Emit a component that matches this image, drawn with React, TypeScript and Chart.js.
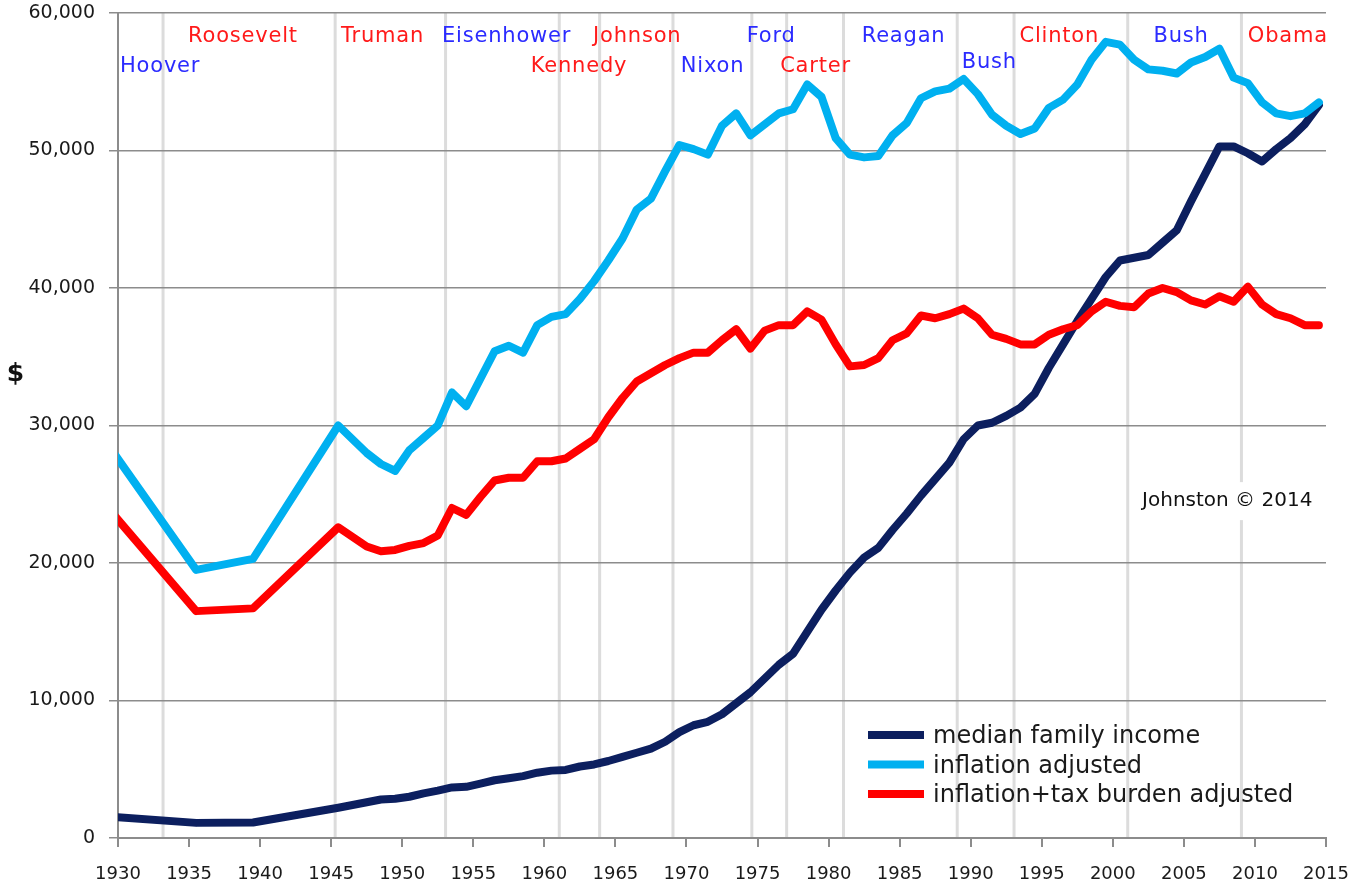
import { useEffect, useRef } from "react";
import { Chart, registerables } from "chart.js";

Chart.register(...registerables);

// ---- data ----
const years = [
  1929, 1935, 1939, 1945, 1947, 1948, 1949, 1950, 1951, 1952, 1953, 1954, 1955, 1956, 1957, 1958,
  1959, 1960, 1961, 1962, 1963, 1964, 1965, 1966, 1967, 1968, 1969, 1970, 1971, 1972, 1973, 1974,
  1975, 1976, 1977, 1978, 1979, 1980, 1981, 1982, 1983, 1984, 1985, 1986, 1987, 1988, 1989, 1990,
  1991, 1992, 1993, 1994, 1995, 1996, 1997, 1998, 1999, 2000, 2001, 2002, 2003, 2004, 2005, 2006,
  2007, 2008, 2009, 2010, 2011, 2012, 2013, 2014,
];

const medianFamilyIncome = [
  1550, 1100, 1130, 2200, 2600, 2800, 2850, 3000, 3250, 3450, 3680, 3720, 3950, 4200, 4350, 4500,
  4750, 4900, 4950, 5200, 5350, 5600, 5900, 6200, 6500, 7000, 7700, 8200, 8450, 9000, 9800, 10600,
  11600, 12600, 13400, 15000, 16600, 18000, 19300, 20400, 21100, 22400, 23600, 24900, 26100, 27300, 29000, 30000,
  30200, 30700, 31300, 32300, 34200, 35900, 37600, 39200, 40800, 42000, 42200, 42400, 43300, 44200, 46300, 48300,
  50300, 50300, 49800, 49200, 50100, 50900, 51900, 53300,
];

const inflationAdjusted = [
  28300, 19500, 20300, 30000, 28000, 27200, 26700, 28200, 29100, 30000, 32400, 31400, 33400, 35400, 35800, 35300,
  37300, 37900, 38100, 39200, 40500, 42000, 43600, 45700, 46500, 48500, 50400, 50100, 49700, 51800, 52700, 51100,
  51900, 52700, 53000, 54800, 53900, 50900, 49700, 49500, 49600, 51100, 52000, 53800, 54300, 54500, 55200, 54100,
  52600, 51800, 51200, 51600, 53100, 53700, 54800, 56600, 57900, 57700, 56600, 55900, 55800, 55600, 56400, 56800,
  57400, 55300, 54900, 53500, 52700, 52500, 52700, 53500,
];

const inflationTaxAdjusted = [
  23750, 16500, 16700, 22600, 21200, 20850, 20950, 21250, 21450, 22000, 24000, 23500, 24800, 26000, 26200, 26200,
  27400, 27400, 27600, 28300, 29000, 30600, 32000, 33200, 33800, 34400, 34900, 35300, 35300, 36200, 37000, 35600,
  36900, 37300, 37300, 38300, 37700, 35900, 34300, 34400, 34900, 36200, 36700, 38000, 37800, 38100, 38500, 37800,
  36600, 36300, 35900, 35900, 36600, 37000, 37300, 38300, 39000, 38700, 38600, 39600, 40000, 39700, 39100, 38800,
  39400, 39000, 40100, 38800, 38100, 37800, 37300, 37300,
];

const seriesLabels = ["median family income", "inflation adjusted", "inflation+tax burden adjusted"];

const xTicks = [1930, 1935, 1940, 1945, 1950, 1955, 1960, 1965, 1970, 1975, 1980, 1985, 1990, 1995, 2000, 2005, 2010, 2015];
const yTicks = [0, 10000, 20000, 30000, 40000, 50000, 60000];

// presidential transitions (dates of inauguration)
const transitions = [1933.17, 1945.28, 1953.05, 1961.05, 1963.89, 1969.05, 1974.6, 1977.05, 1981.05, 1989.05, 1993.05, 2001.05, 2009.05];

const presidents = ["Hoover", "Roosevelt", "Truman", "Eisenhower", "Kennedy", "Johnson", "Nixon", "Ford", "Carter", "Reagan", "Bush", "Clinton", "Bush", "Obama"];
const parties = ["R", "D", "D", "R", "D", "D", "R", "R", "D", "R", "R", "D", "R", "D"];
const labelYears = [1930.14, 1934.93, 1945.69, 1952.8, 1959.04, 1963.43, 1969.6, 1974.24, 1976.59, 1982.33, 1989.37, 1993.43, 2002.86, 2009.5];
const labelBaselines = [55700, 57900, 57900, 57900, 55700, 57900, 55700, 57900, 55700, 57900, 56000, 57900, 57900, 57900];

const creditText = "Johnston \u00A9 2014";
const creditAt = { year: 2002.06, value: 24500 };

// ---- styles ----
const NAVY = "#0c1f5f";
const SKY = "#00b0f0";
const RED = "#ff0000";
const GRID = "#8c8c8c";
const PRES_BLUE = "#2b2bff";
const PRES_RED = "#ff1a1a";
const FONT = '"DejaVu Sans", Verdana, sans-serif';

const X_OFFSET = 0.5; // annual values are plotted at mid-year

function toPoints(vals: number[]) {
  return years.map((yr, i) => ({ x: yr + X_OFFSET, y: vals[i] }));
}

function zeroPadding(axis: any) {
  axis.paddingTop = 0;
  axis.paddingBottom = 0;
  axis.paddingLeft = 0;
  axis.paddingRight = 0;
}

const overlayPlugin = {
  id: "overlay",
  beforeDraw(chart: any) {
    const { ctx, chartArea, scales } = chart;
    const xs = scales.x;
    const ys = scales.y;
    ctx.save();
    // presidential term boundaries
    ctx.strokeStyle = "#dcdcdc";
    ctx.lineWidth = 3;
    transitions.forEach((t) => {
      const px = xs.getPixelForValue(t);
      ctx.beginPath();
      ctx.moveTo(px, chartArea.top);
      ctx.lineTo(px, chartArea.bottom);
      ctx.stroke();
    });
    // credit with white background
    ctx.font = `20px ${FONT}`;
    const cx = xs.getPixelForValue(creditAt.year);
    const cy = ys.getPixelForValue(creditAt.value);
    const w = ctx.measureText(creditText).width;
    ctx.fillStyle = "#ffffff";
    ctx.fillRect(cx - 6, cy - 19, w + 12, 38);
    ctx.fillStyle = "#111111";
    ctx.textBaseline = "middle";
    ctx.textAlign = "left";
    ctx.fillText(creditText, cx, cy);
    ctx.restore();
  },
  afterDraw(chart: any) {
    const { ctx, chartArea, scales } = chart;
    const xs = scales.x;
    const ys = scales.y;
    ctx.save();
    // president names
    ctx.font = `21px ${FONT}`;
    (ctx as any).letterSpacing = "0.8px";
    ctx.textAlign = "left";
    ctx.textBaseline = "alphabetic";
    presidents.forEach((name, i) => {
      ctx.fillStyle = parties[i] === "R" ? PRES_BLUE : PRES_RED;
      ctx.fillText(name, xs.getPixelForValue(labelYears[i]), ys.getPixelForValue(labelBaselines[i]));
    });
    (ctx as any).letterSpacing = "0px";

    // y-axis "$"
    ctx.font = `bold 25px ${FONT}`;
    ctx.fillStyle = "#111111";
    ctx.textAlign = "center";
    ctx.textBaseline = "middle";
    ctx.fillText("$", ys.left + 15.5, ys.getPixelForValue(33700));

    // legend
    const lx = chartArea.left + 750;
    const ly = chartArea.top + 722;
    ctx.font = `24px ${FONT}`;
    ctx.textAlign = "left";
    ctx.textBaseline = "alphabetic";
    chart.data.datasets.forEach((ds: any, i: number) => {
      const rowY = ly + i * 29.5;
      ctx.strokeStyle = ds.borderColor;
      ctx.lineWidth = 8;
      ctx.lineCap = "butt";
      ctx.beginPath();
      ctx.moveTo(lx, rowY);
      ctx.lineTo(lx + 56, rowY);
      ctx.stroke();
      ctx.fillStyle = "#1a1a1a";
      ctx.fillText(ds.label, lx + 65, rowY + 8);
    });
    ctx.restore();
  },
};

export default function App() {
  const canvasRef = useRef<HTMLCanvasElement | null>(null);

  useEffect(() => {
    if (!canvasRef.current) return;
    Chart.defaults.font.family = FONT;
    const chart = new Chart(canvasRef.current, {
      type: "line",
      data: {
        datasets: [
          {
            label: seriesLabels[0],
            data: toPoints(medianFamilyIncome),
            borderColor: NAVY,
            backgroundColor: NAVY,
            order: 2,
          },
          {
            label: seriesLabels[1],
            data: toPoints(inflationAdjusted),
            borderColor: SKY,
            backgroundColor: SKY,
            order: 1,
          },
          {
            label: seriesLabels[2],
            data: toPoints(inflationTaxAdjusted),
            borderColor: RED,
            backgroundColor: RED,
            order: 0,
          },
        ] as any,
      },
      options: {
        animation: false,
        responsive: false,
        parsing: false as any,
        clip: 0 as any,
        layout: { padding: { top: 13, right: 25, left: 0, bottom: 0 } },
        elements: {
          line: { borderWidth: 8, tension: 0, borderJoinStyle: "round", borderCapStyle: "round", fill: false },
          point: { radius: 0, hoverRadius: 0 },
        },
        plugins: {
          legend: { display: false },
          tooltip: { enabled: false },
        },
        events: [],
        scales: {
          x: {
            type: "linear",
            min: 1930,
            max: 2015,
            afterBuildTicks: (axis: any) => {
              axis.ticks = xTicks.map((v) => ({ value: v }));
            },
            afterFit: (axis: any) => {
              axis.height = 47;
              zeroPadding(axis);
            },
            ticks: {
              callback: (v: any) => String(v),
              font: { size: 18 },
              color: "#1a1a1a",
              padding: 17,
              maxRotation: 0,
              autoSkip: false,
            },
            grid: { drawOnChartArea: false, drawTicks: true, tickLength: 9, color: GRID, lineWidth: 2 },
            border: { display: true, color: GRID, width: 2 },
          },
          y: {
            type: "linear",
            min: 0,
            max: 60000,
            afterBuildTicks: (axis: any) => {
              axis.ticks = yTicks.map((v) => ({ value: v }));
            },
            afterFit: (axis: any) => {
              axis.width = 118;
              zeroPadding(axis);
            },
            ticks: {
              callback: (v: any) => Number(v).toLocaleString("en-US"),
              font: { size: 19 },
              color: "#1a1a1a",
              padding: 14,
            },
            grid: { color: GRID, lineWidth: 1.5, tickLength: 9, drawTicks: true },
            border: { display: true, color: GRID, width: 2 },
          },
        },
      } as any,
      plugins: [overlayPlugin],
    });
    return () => chart.destroy();
  }, []);

  return (
    <div style={{ position: "fixed", left: 0, top: 0, width: 1351, height: 885, background: "#ffffff" }}>
      <canvas ref={canvasRef} width={1351} height={885} />
    </div>
  );
}
